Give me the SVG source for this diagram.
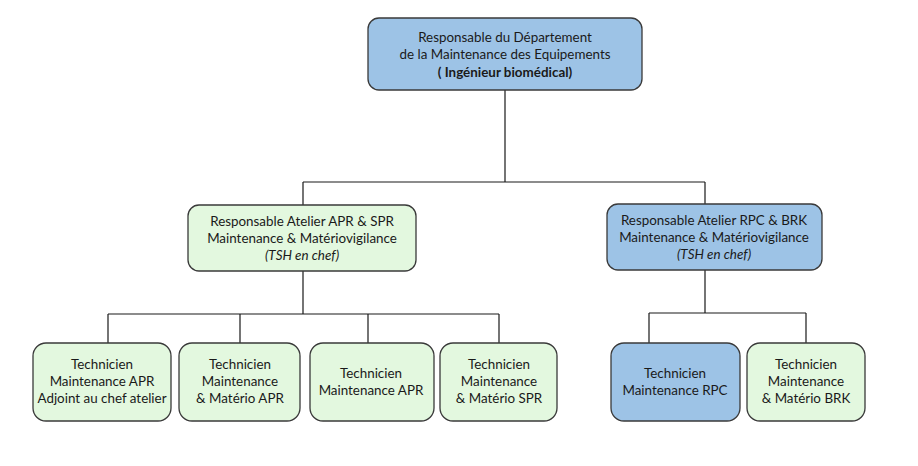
<svg xmlns="http://www.w3.org/2000/svg" width="918" height="466" viewBox="0 0 918 466">
<style>
.box{stroke:#3a3a3a;stroke-width:1.3}
.blue{fill:#9dc3e6}
.green{fill:#e3f8df}
.t{font-family:"Lato","Open Sans","Liberation Sans",sans-serif;font-size:13.4px;fill:#1a1a1a;text-anchor:middle}
.b{font-weight:bold}
.i{font-style:italic}
.c{fill:none;stroke:#1a1a1a;stroke-width:1.2}
</style>
<rect width="918" height="466" fill="#ffffff"/>
<g id="connectors">
<path class="c" d="M505 90V182M303 182H705M303 182V205M705 182V204"/>
<path class="c" d="M303 271V314M108 314H499M108 314V343M240 314V343M368 314V343M499 314V343"/>
<path class="c" d="M705 270V313M649 313H806M649 313V343M806 313V343"/>
</g>
<g id="n_top">
<rect class="box blue" x="368" y="18" width="274" height="72" rx="11"/>
<text class="t" x="505" y="42">Responsable du Département</text>
<text class="t" x="505" y="59">de la Maintenance des Equipements</text>
<text class="t b" x="505" y="77">( Ingénieur biomédical)</text>
</g>
<g id="n_apr_spr">
<rect class="box green" x="188" y="205" width="228" height="66" rx="11"/>
<text class="t" x="302" y="226">Responsable Atelier APR &amp; SPR</text>
<text class="t" x="302" y="243">Maintenance &amp; Matériovigilance</text>
<text class="t i" x="302" y="260">(TSH en chef)</text>
</g>
<g id="n_rpc_brk">
<rect class="box blue" x="607" y="204" width="215" height="66" rx="11"/>
<text class="t" x="714" y="225">Responsable Atelier RPC &amp; BRK</text>
<text class="t" x="714" y="242">Maintenance &amp; Matériovigilance</text>
<text class="t i" x="714" y="259">(TSH en chef)</text>
</g>
<g id="n_tech1">
<rect class="box green" x="33" y="343" width="138" height="78" rx="13"/>
<text class="t" x="102" y="369">Technicien</text>
<text class="t" x="102" y="386">Maintenance APR</text>
<text class="t" x="102" y="403">Adjoint au chef atelier</text>
</g>
<g id="n_tech2">
<rect class="box green" x="179" y="343" width="121" height="78" rx="13"/>
<text class="t" x="240" y="369">Technicien</text>
<text class="t" x="240" y="386">Maintenance</text>
<text class="t" x="240" y="403">&amp; Matério APR</text>
</g>
<g id="n_tech3">
<rect class="box green" x="310" y="343" width="124" height="78" rx="13"/>
<text class="t" x="371" y="378">Technicien</text>
<text class="t" x="371" y="395">Maintenance APR</text>
</g>
<g id="n_tech4">
<rect class="box green" x="440" y="343" width="117" height="78" rx="13"/>
<text class="t" x="499" y="369">Technicien</text>
<text class="t" x="499" y="386">Maintenance</text>
<text class="t" x="499" y="403">&amp; Matério SPR</text>
</g>
<g id="n_tech5">
<rect class="box blue" x="611" y="343" width="129" height="78" rx="13"/>
<text class="t" x="675" y="378">Technicien</text>
<text class="t" x="675" y="395">Maintenance RPC</text>
</g>
<g id="n_tech6">
<rect class="box green" x="747" y="343" width="118" height="78" rx="13"/>
<text class="t" x="806" y="369">Technicien</text>
<text class="t" x="806" y="386">Maintenance</text>
<text class="t" x="806" y="403">&amp; Matério BRK</text>
</g>
</svg>
